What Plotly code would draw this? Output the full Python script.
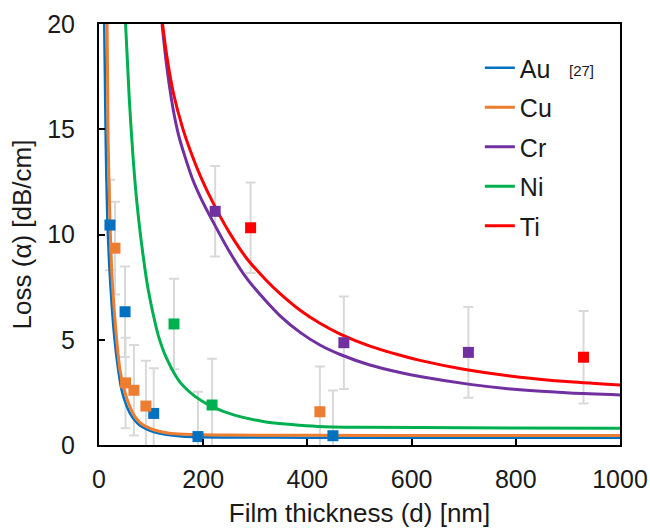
import plotly.graph_objects as go

# ---- data ----
names = ["Au", "Cu", "Cr", "Ni", "Ti"]
colors = ["#0070C0", "#ED7D31", "#7030A0", "#00B050", "#FF0000"]

# fitted curves
au_cx = [10, 13, 16, 20, 24, 28, 34, 43, 53, 63, 75, 88, 105, 127, 150, 180, 250, 400, 700, 1000]
au_cy = [20, 14.3, 10.7, 8.4, 6.8, 5.5, 4.1, 2.65, 1.85, 1.35, 1.0, 0.79, 0.62, 0.5, 0.43, 0.38, 0.36, 0.35, 0.35, 0.35]

cu_cx = [15.5, 17.5, 21, 25, 30.7, 34, 40, 48.6, 58, 69, 82, 98, 115, 139, 180, 250, 400, 700, 1000]
cu_cy = [20, 14.5, 10.7, 8.0, 5.94, 5.0, 3.6, 2.61, 1.9, 1.35, 1.0, 0.79, 0.65, 0.55, 0.5, 0.47, 0.46, 0.45, 0.45]

cr_cx = [121, 130, 142, 153, 165, 180, 198, 219, 250, 284, 320, 347, 386, 424, 463, 520, 580, 616, 712, 808, 904, 1000]
cr_cy = [20, 18.0, 16.0, 14.7, 13.7, 12.6, 11.6, 10.6, 9.2, 7.9, 6.85, 6.15, 5.35, 4.75, 4.3, 3.8, 3.43, 3.25, 2.88, 2.62, 2.47, 2.38]

ni_cx = [51, 58, 65, 72, 80, 88, 95, 105, 115, 130, 155, 185, 215, 260, 315, 370, 420, 500, 700, 1000]
ni_cy = [20, 16.5, 13.8, 11.7, 9.9, 8.4, 7.3, 6.1, 5.1, 4.1, 3.0, 2.3, 1.85, 1.42, 1.12, 0.97, 0.88, 0.84, 0.82, 0.79]

ti_cx = [122, 130, 143, 160, 175, 195, 219, 250, 284, 320, 347, 386, 424, 463, 520, 580, 616, 700, 808, 904, 1000]
ti_cy = [20, 18.5, 16.7, 15.1, 14.0, 12.75, 11.5, 10.1, 8.85, 7.85, 7.2, 6.4, 5.78, 5.27, 4.7, 4.25, 4.02, 3.6, 3.22, 3.0, 2.85]

# measured points with error bars
au_px = [21, 50, 105, 190, 449]
au_py = [10.45, 6.33, 1.5, 0.4, 0.44]
au_pe = [2.15, 2.15, 2.15, 2.13, 2.15]

cu_px = [30.7, 51, 67, 90, 424]
cu_py = [9.35, 2.95, 2.6, 1.85, 1.58]
cu_pe = [2.2, 2.15, 2.15, 2.15, 2.15]

cr_px = [223, 470, 709]
cr_py = [11.1, 4.86, 4.4]
cr_pe = [2.15, 2.2, 2.15]

ni_px = [144, 217]
ni_py = [5.75, 1.9]
ni_pe = [2.15, 2.2]

ti_px = [291, 930]
ti_py = [10.32, 4.17]
ti_pe = [2.15, 2.2]

x_ticks = [0, 200, 400, 600, 800, 1000]
y_ticks = [0, 5, 10, 15, 20]

curves = [(au_cx, au_cy), (cu_cx, cu_cy), (cr_cx, cr_cy), (ni_cx, ni_cy), (ti_cx, ti_cy)]
points = [(au_px, au_py, au_pe), (cu_px, cu_py, cu_pe), (cr_px, cr_py, cr_pe),
          (ni_px, ni_py, ni_pe), (ti_px, ti_py, ti_pe)]
line_widths = [2.5, 3, 3, 3, 3]

FONT = "Liberation Sans, Arial, sans-serif"
TXT = "#1a1a1a"
fig = go.Figure()

# error bars (bottom layer)
for name, (px, py, pe) in zip(names, points):
    fig.add_trace(go.Scatter(
        x=px, y=py, mode="markers",
        marker=dict(size=1, color="rgba(0,0,0,0)"),
        error_y=dict(type="data", array=pe, visible=True, color="#D9D9D9", thickness=2, width=5),
        showlegend=False, hoverinfo="skip"))

# curves
for name, c, lw, (cx, cy) in zip(names, colors, line_widths, curves):
    fig.add_trace(go.Scatter(
        x=cx, y=cy, mode="lines", name=name, legendgroup=name,
        line=dict(color=c, width=lw, shape="spline", smoothing=0.8)))

# markers (top layer)
for name, c, (px, py, pe) in zip(names, colors, points):
    fig.add_trace(go.Scatter(
        x=px, y=py, mode="markers", legendgroup=name, showlegend=False,
        marker=dict(symbol="square", size=11, color=c, line=dict(width=0))))

axis_common = dict(
    showgrid=False, zeroline=False, showline=True, linecolor="black", linewidth=2,
    mirror=True, ticks="inside", ticklen=6, tickwidth=1.5, tickcolor="black",
    tickfont=dict(family=FONT, size=25, color=TXT), automargin=False,
)

fig.update_layout(
    width=650, height=530,
    margin=dict(l=99, r=30, t=24, b=85),
    paper_bgcolor="white", plot_bgcolor="white",
    xaxis=dict(range=[0, 1000], tickvals=x_ticks, ticklabelstandoff=11,
               title=dict(text="Film thickness (d) [nm]", standoff=12,
                          font=dict(family=FONT, size=26, color=TXT)),
               **axis_common),
    yaxis=dict(range=[0, 20], tickvals=y_ticks, ticklabelstandoff=17,
               title=dict(text="Loss (α) [dB/cm]", standoff=8,
                          font=dict(family=FONT, size=26, color=TXT)),
               **axis_common),
    legend=dict(x=0.731, y=0.950, xanchor="left", yanchor="top",
                bgcolor="rgba(0,0,0,0)", borderwidth=0, tracegroupgap=4,
                font=dict(family=FONT, size=25, color=TXT)),
    annotations=[dict(text="[27]", x=927, y=17.77, xref="x", yref="y",
                      showarrow=False, font=dict(family=FONT, size=15, color=TXT))],
)

fig.write_html("out.html")
